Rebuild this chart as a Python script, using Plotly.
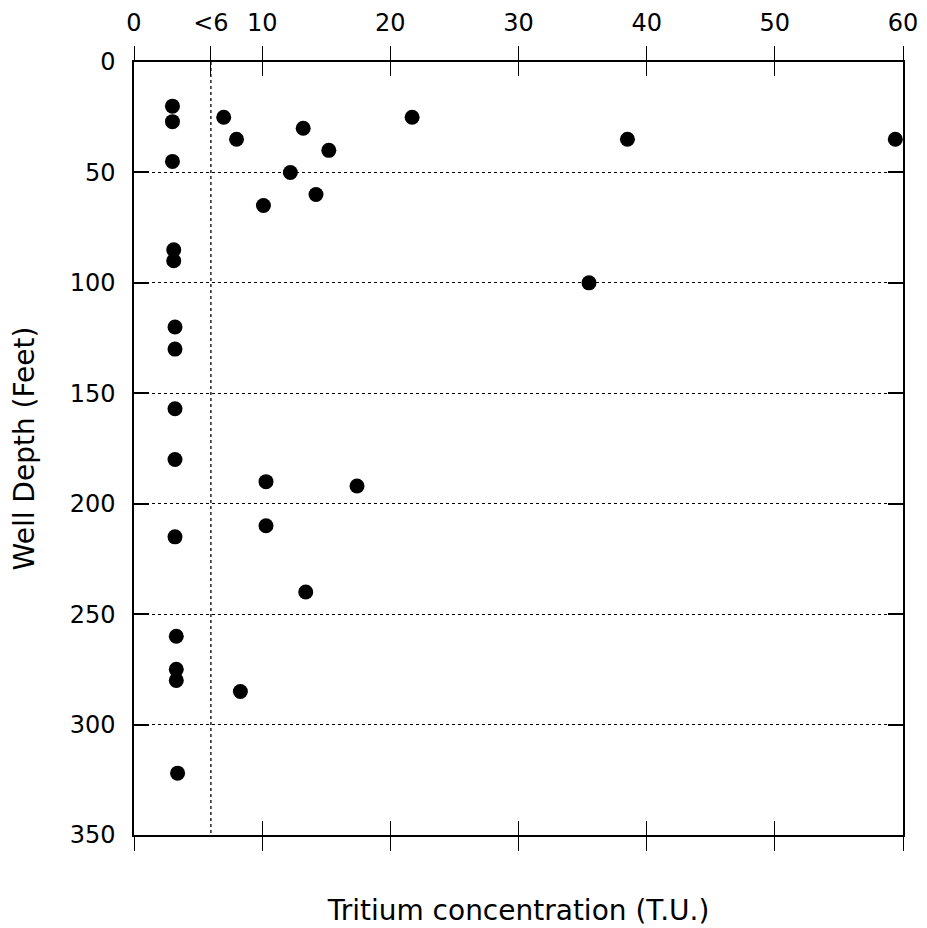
import plotly.graph_objects as go

tritium_tu = [3.0, 3.0, 7.0, 21.7, 8.0, 13.2, 15.2, 38.5, 59.4, 3.0,
              12.2, 14.2, 10.1, 3.1, 3.1, 35.5, 3.2, 3.2, 3.2, 3.2,
              10.3, 17.4, 10.3, 3.2, 13.4, 3.3, 3.3, 3.3, 8.3, 3.4]
depth_ft = [20, 27, 25, 25, 35, 30, 40, 35, 35, 45,
            50, 60, 65, 85, 90, 100, 120, 130, 157, 180,
            190, 192, 210, 215, 240, 260, 275, 280, 285, 322]

top_tickvals = [0, 6, 10, 20, 30, 40, 50, 60]
top_ticktext = ["0", "<6", "10", "20", "30", "40", "50", "60"]
bottom_tickvals = [0, 10, 20, 30, 40, 50, 60]
depth_ticks = [0, 50, 100, 150, 200, 250, 300, 350]
detection_limit = 6

FONT = "DejaVu Sans"

fig = go.Figure()
fig.add_trace(go.Scatter(x=tritium_tu, y=depth_ft, mode="markers",
                         marker=dict(size=15, color="black"),
                         showlegend=False, hoverinfo="x+y"))
for ax in ["x2", "x3", "x4"]:
    fig.add_trace(go.Scatter(x=[None], y=[None], xaxis=ax, yaxis="y",
                             mode="markers", showlegend=False, hoverinfo="skip"))

fig.add_shape(type="line", xref="x", yref="y", x0=detection_limit, x1=detection_limit,
              y0=0, y1=350, line=dict(color="black", width=1.3, dash="dot"), layer="below")

common = dict(range=[0, 60], showgrid=False, zeroline=False, tickcolor="black",
              tickwidth=1.3, ticklen=14, fixedrange=True, automargin=False)

fig.update_layout(
    width=919, height=920,
    margin=dict(l=126, r=24, t=54, b=93),
    paper_bgcolor="white", plot_bgcolor="white",
    font=dict(family=FONT, color="black", size=24),
    xaxis=dict(**common, side="top", tickmode="array", tickvals=top_tickvals,
               ticktext=top_ticktext, ticks="outside", showline=True,
               linecolor="black", linewidth=2.4,
               tickfont=dict(family=FONT, size=24, color="black"),
               ticklabelstandoff=5),
    xaxis2=dict(**common, overlaying="x", matches="x", side="top", anchor="y",
                tickmode="array", tickvals=top_tickvals, ticks="inside",
                showticklabels=False, showline=False),
    xaxis3=dict(**common, overlaying="x", matches="x", side="bottom", anchor="y",
                tickmode="array", tickvals=bottom_tickvals, ticks="outside",
                showticklabels=False, showline=True, linecolor="black", linewidth=1.8,
                title=dict(text="Tritium concentration (T.U.)",
                           font=dict(family=FONT, size=28, color="black"),
                           standoff=50)),
    xaxis4=dict(**common, overlaying="x", matches="x", side="bottom", anchor="y",
                tickmode="array", tickvals=bottom_tickvals, ticks="inside",
                showticklabels=False, showline=False),
    yaxis=dict(range=[350, 0], tickmode="array", tickvals=depth_ticks,
               ticks="inside", ticklen=15, tickwidth=1.5, tickcolor="black",
               showline=True, linecolor="black", linewidth=1.5, mirror="ticks",
               showgrid=True, gridcolor="black", griddash="dot", gridwidth=1.2,
               zeroline=False, fixedrange=True, automargin=False,
               tickfont=dict(family=FONT, size=24, color="black"),
               ticklabelstandoff=12,
               title=dict(text="Well Depth (Feet)",
                          font=dict(family=FONT, size=28, color="black"),
                          standoff=30)),
)

fig.write_html("out.html")
